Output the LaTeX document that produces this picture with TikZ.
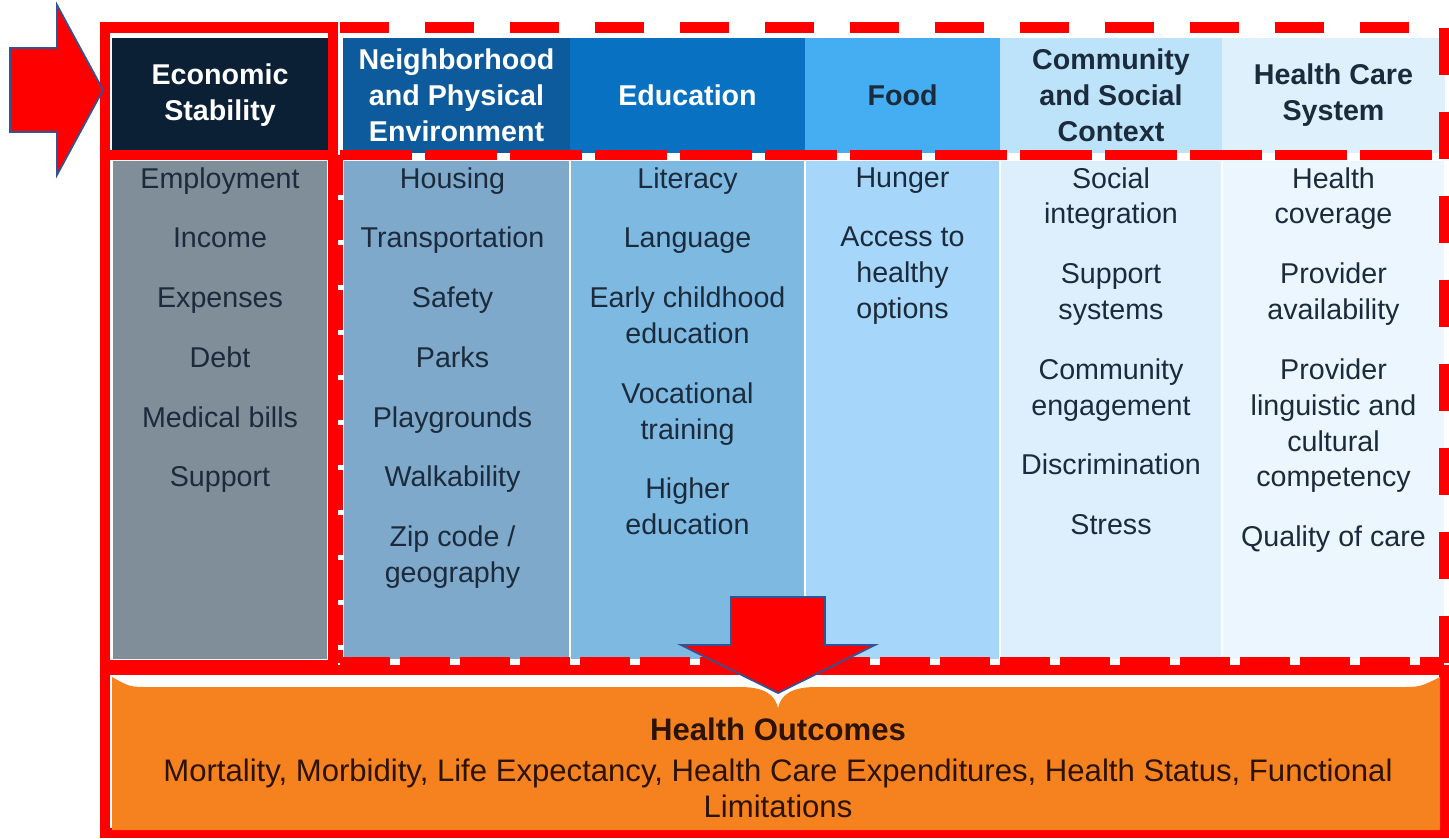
\documentclass[tikz,border=0pt]{standalone}
\usepackage{fontspec}
\setmainfont{Liberation Sans}

\definecolor{econhead}{HTML}{0B1F35}
\definecolor{neighhead}{HTML}{0D5A9C}
\definecolor{eduhead}{HTML}{0871C1}
\definecolor{foodhead}{HTML}{45AEF2}
\definecolor{commhead}{HTML}{BDE3FA}
\definecolor{carehead}{HTML}{DDF0FC}
\definecolor{econbody}{HTML}{7F8E98}
\definecolor{neighbody}{HTML}{7EA9CB}
\definecolor{edubody}{HTML}{7EB9E2}
\definecolor{foodbody}{HTML}{A6D7FA}
\definecolor{commbody}{HTML}{DDEFFC}
\definecolor{carebody}{HTML}{ECF6FE}
\definecolor{itemtext}{HTML}{1C2B3B}
\definecolor{outcomefill}{HTML}{F5821F}
\definecolor{outcometext}{HTML}{2B1300}
\definecolor{arrowedge}{HTML}{2F5597}

\begin{document}
\begin{tikzpicture}[
    head/.style={rectangle, minimum height=2.3cm, inner sep=0pt, font=\fontsize{16.3}{20.4}\selectfont\bfseries, align=center},
    colbody/.style={rectangle, minimum height=10cm, inner sep=0pt, draw=white, line width=0.6pt},
    items/.style={anchor=north, inner sep=0pt, font=\fontsize{16.3}{20.4}\selectfont, align=center, text=itemtext},
    redline/.style={draw=red, line width=6pt},
    reddash/.style={draw=red, line width=6pt},
    bigarrow/.style={fill=red, draw=arrowedge, line width=1pt, line join=miter}
]

\useasboundingbox (0,0) rectangle (28.98,-16.76);

% Column headers
\node[head, fill=econhead, text=white, minimum width=4.32cm] (econHead) at (4.40,-1.90) {Economic\\Stability};
\node[head, fill=neighhead, text=white, minimum width=4.54cm] (neighHead) at (9.13,-1.90) {Neighborhood\\and Physical\\Environment};
\node[head, fill=eduhead, text=white, minimum width=4.70cm] (eduHead) at (13.75,-1.90) {Education};
\node[head, fill=foodhead, text=itemtext, minimum width=3.90cm] (foodHead) at (18.05,-1.90) {Food};
\node[head, fill=commhead, text=itemtext, minimum width=4.44cm] (commHead) at (22.22,-1.90) {Community\\and Social\\Context};
\node[head, fill=carehead, text=itemtext, minimum width=4.46cm] (careHead) at (26.67,-1.90) {Health Care\\System};

% Column bodies
\node[colbody, fill=econbody, minimum width=4.32cm] (econBody) at (4.40,-8.20) {};
\node[colbody, fill=neighbody, minimum width=4.54cm] (neighBody) at (9.13,-8.20) {};
\node[colbody, fill=edubody, minimum width=4.70cm] (eduBody) at (13.75,-8.20) {};
\node[colbody, fill=foodbody, minimum width=3.90cm] (foodBody) at (18.05,-8.20) {};
\node[colbody, fill=commbody, minimum width=4.44cm] (commBody) at (22.22,-8.20) {};
\node[colbody, fill=carebody, minimum width=4.46cm] (careBody) at (26.67,-8.20) {};

% Items in each column
\node[items] (econItems) at (4.40,-3.34) {Employment\\[13.6pt]Income\\[13.6pt]Expenses\\[13.6pt]Debt\\[13.6pt]Medical bills\\[13.6pt]Support};
\node[items] (neighItems) at (9.05,-3.34) {Housing\\[13.6pt]Transportation\\[13.6pt]Safety\\[13.6pt]Parks\\[13.6pt]Playgrounds\\[13.6pt]Walkability\\[13.6pt]Zip code /\\geography};
\node[items] (eduItems) at (13.75,-3.34) {Literacy\\[13.6pt]Language\\[13.6pt]Early childhood\\education\\[13.6pt]Vocational\\training\\[13.6pt]Higher\\education};
\node[items] (foodItems) at (18.05,-3.34) {Hunger\\[13.6pt]Access to\\healthy\\options};
\node[items] (commItems) at (22.22,-3.34) {Social\\integration\\[13.6pt]Support\\systems\\[13.6pt]Community\\engagement\\[13.6pt]Discrimination\\[13.6pt]Stress};
\node[items] (careItems) at (26.67,-3.34) {Health\\coverage\\[13.6pt]Provider\\availability\\[13.6pt]Provider\\linguistic and\\cultural\\competency\\[13.6pt]Quality of care};

% Dashed frame round the other columns
\draw[reddash, dash pattern=on 0.98cm off 0.72cm] (6.80,-0.55) -- (28.88,-0.55);
\draw[reddash, dash pattern=on 1.44cm off 0.26cm] (6.80,-3.10) -- (28.88,-3.10);
\draw[reddash, dash pattern=on 0.94cm off 0.74cm] (28.88,-0.55) -- (28.88,-13.25);
\draw[reddash, dash pattern=on 0.80cm off 0.10cm] (6.76,-3.10) -- (6.76,-13.25);
\draw[reddash, dash pattern=on 1.00cm off 0.20cm] (6.80,-13.25) -- (28.88,-13.25);

% Solid frames
\draw[redline] (2.10,-0.55) rectangle (6.66,-13.30);
\draw[redline] (2.10,-3.10) -- (6.66,-3.10);
\draw[redline] (2.10,-13.40) rectangle (28.88,-16.66);

% Outcome box
\fill[outcomefill] (2.24,-13.54) .. controls (2.60,-13.74) .. (3.00,-13.74) -- (14.80,-13.74)
    .. controls (15.30,-13.74) and (15.50,-13.90) .. (15.56,-14.16)
    .. controls (15.62,-13.90) and (15.82,-13.74) .. (16.32,-13.74) -- (28.00,-13.74)
    .. controls (28.40,-13.74) .. (28.80,-13.54) -- (28.80,-16.60) -- (2.24,-16.60) -- cycle;
\node[font=\fontsize{17.7}{20.4}\selectfont, align=center, text=outcometext] (outcomes) at (15.56,-15.36)
    {\textbf{Health Outcomes}\\[2.8pt]Mortality, Morbidity, Life Expectancy, Health Care Expenditures, Health Status, Functional\\Limitations};

% Big arrows
\draw[bigarrow] (0.20,-0.96) -- (1.14,-0.96) -- (1.14,-0.10) -- (2.06,-1.80) -- (1.14,-3.50) -- (1.14,-2.64) -- (0.20,-2.64) -- cycle;
\draw[bigarrow] (14.62,-11.94) -- (16.50,-11.94) -- (16.50,-12.90) -- (17.50,-12.90) -- (15.56,-13.86) -- (13.62,-12.90) -- (14.62,-12.90) -- cycle;

\end{tikzpicture}
\end{document}
